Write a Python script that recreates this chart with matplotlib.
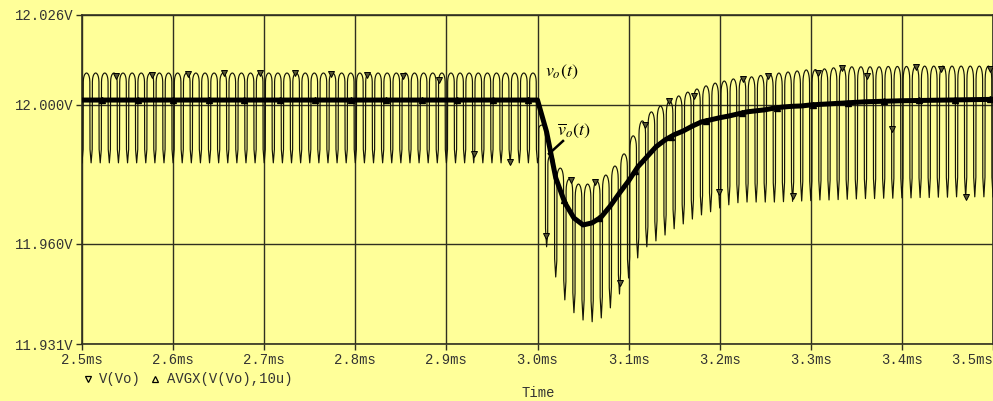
import matplotlib
matplotlib.use("Agg")
import matplotlib.pyplot as plt
from matplotlib.lines import Line2D
import numpy as np


# switching period of the converter, ms
PERIOD_MS = 0.01

# V(Vo) before the load step: one peak / trough per 10 us cycle
STEADY_CYCLES = 50
STEADY_PEAK = 12.0092
STEADY_TROUGH = 11.9833

# V(Vo) after the step at 3.0 ms, cycle by cycle
TRANSIENT_PEAKS = [
    11.9942, 11.9856, 11.9818, 11.9787, 11.9772, 11.9772, 11.9781, 11.9798, 11.9824, 11.9859,
    11.9911, 11.9954, 11.9980, 11.9997, 12.0012, 12.0026, 12.0037, 12.0046, 12.0055, 12.0063,
    12.0069, 12.0075, 12.0078, 12.0081, 12.0085, 12.0089, 12.0092, 12.0095, 12.0098, 12.0101,
    12.0102, 12.0104, 12.0107, 12.0108, 12.0110, 12.0110, 12.0110, 12.0110, 12.0111, 12.0111,
    12.0111, 12.0111, 12.0112, 12.0112, 12.0112, 12.0112, 12.0112, 12.0112, 12.0112, 12.0112,
]
TRANSIENT_TROUGHS = [
    11.9591, 11.9504, 11.9438, 11.9401, 11.9380, 11.9375, 11.9386, 11.9415, 11.9455, 11.9501,
    11.9559, 11.9591, 11.9608, 11.9625, 11.9643, 11.9657, 11.9671, 11.9683, 11.9692, 11.9703,
    11.9712, 11.9718, 11.9720, 11.9720, 11.9720, 11.9720, 11.9721, 11.9722, 11.9723, 11.9724,
    11.9726, 11.9726, 11.9727, 11.9728, 11.9729, 11.9730, 11.9730, 11.9731, 11.9731, 11.9732,
    11.9732, 11.9733, 11.9733, 11.9734, 11.9734, 11.9735, 11.9735, 11.9735, 11.9735, 11.9735,
]

# AVGX(V(Vo),10u)
AVG_TIME_MS = [
    2.50, 3.00, 3.01, 3.02, 3.03, 3.04, 3.05, 3.06, 3.07, 3.08, 3.09,
    3.10, 3.11, 3.12, 3.13, 3.14, 3.15, 3.16, 3.17, 3.18, 3.19,
    3.20, 3.21, 3.22, 3.23, 3.24, 3.25, 3.26, 3.27, 3.28, 3.29,
    3.30, 3.32, 3.34, 3.36, 3.40, 3.45, 3.50,
]
AVG_VOLTS = [
    12.0014, 12.0014, 11.9922, 11.9790, 11.9718, 11.9674, 11.9654, 11.9660, 11.9677, 11.9709, 11.9746,
    11.9781, 11.9821, 11.9850, 11.9879, 11.9899, 11.9914, 11.9925, 11.9939, 11.9951, 11.9957,
    11.9963, 11.9968, 11.9974, 11.9980, 11.9983, 11.9986, 11.9991, 11.9994, 11.9996, 11.9997,
    12.0000, 12.0003, 12.0006, 12.0009, 12.0012, 12.0014, 12.0016,
]

X_TICKS = [2.5, 2.6, 2.7, 2.8, 2.9, 3.0, 3.1, 3.2, 3.3, 3.4, 3.5]
Y_TICKS = [11.931, 11.960, 12.000, 12.026]

# shape of one ripple cycle: phase inside the period, level between trough (0) and peak (1)
KNEE_PHASE = 0.12
KNEE_LEVEL = 0.15
ARCH_PHASE = [0.14, 0.16, 0.20, 0.25, 0.30, 0.40, 0.50, 0.60, 0.70, 0.75, 0.80, 0.84, 0.86]
ARCH_LEVEL = [0.90, 0.933, 0.955, 0.972, 0.983, 0.996, 1.0, 0.996, 0.983, 0.972, 0.955, 0.933, 0.90]

BG = "#ffff99"
INK = "#303020"


def build_ripple():
    peaks = [STEADY_PEAK] * STEADY_CYCLES + TRANSIENT_PEAKS
    troughs = [STEADY_TROUGH] * (STEADY_CYCLES + 1) + TRANSIENT_TROUGHS
    t, v = [], []
    for k, hi in enumerate(peaks):
        t0 = X_TICKS[0] + k * PERIOD_MS
        lo_a, lo_b = troughs[k], troughs[k + 1]
        t.append(t0)
        v.append(lo_a)
        t.append(t0 + KNEE_PHASE * PERIOD_MS)
        v.append(lo_a + KNEE_LEVEL * (hi - lo_a))
        for p, lev in zip(ARCH_PHASE, ARCH_LEVEL):
            lo = lo_a if p < 0.5 else lo_b
            t.append(t0 + p * PERIOD_MS)
            v.append(lo + lev * (hi - lo))
        t.append(t0 + (1 - KNEE_PHASE) * PERIOD_MS)
        v.append(lo_b + KNEE_LEVEL * (hi - lo_b))
    t.append(X_TICKS[0] + len(peaks) * PERIOD_MS)
    v.append(troughs[-1])
    return np.array(t), np.array(v)


def main():
    plt.rcParams["font.family"] = ["Liberation Mono", "DejaVu Sans Mono"]
    plt.rcParams["mathtext.fontset"] = "stix"

    fig = plt.figure(figsize=(9.93, 4.01), dpi=100, facecolor=BG)
    ax = fig.add_axes([82 / 993, 1 - 344.3 / 401, 1 - 82 / 993, (344.3 - 14.7) / 401])
    ax.set_facecolor(BG)

    t, v = build_ripple()
    ax.plot(t, v, color="#141408", lw=0.85, zorder=3)

    # triangle markers that PSpice drops along the trace
    t_marks = np.concatenate([
        np.arange(2.5378, 3.0, 0.0393),
        np.arange(3.0093, 3.5, 0.0271),
    ])
    ax.plot(t_marks, np.interp(t_marks, t, v), ls="none", marker="v",
            ms=4.5, mfc="#555533", mec="black", mew=0.7, zorder=4)

    ax.plot(AVG_TIME_MS, AVG_VOLTS, color="black", lw=3.6,
            solid_joinstyle="round", solid_capstyle="butt", zorder=5)
    avg_marks = np.arange(2.522, 3.5, 0.039)
    ax.plot(avg_marks, np.interp(avg_marks, AVG_TIME_MS, AVG_VOLTS), ls="none",
            marker="^", ms=4, mfc="black", mec="black", zorder=6)

    ax.set_xlim(X_TICKS[0], X_TICKS[-1])
    ax.set_ylim(Y_TICKS[0], Y_TICKS[-1])
    ax.set_xticks(X_TICKS)
    ax.set_xticklabels([f"{x:.1f}ms" for x in X_TICKS])
    ax.get_xticklabels()[-1].set_horizontalalignment("right")
    ax.set_yticks(Y_TICKS)
    ax.set_yticklabels([f"{y:.3f}V" for y in Y_TICKS])
    ax.tick_params(direction="out", length=4.5, width=1, color=INK,
                   labelcolor="#333333", labelsize=10, pad=1.5)
    ax.grid(True, color=INK, lw=1.0)
    for side in ["left", "right", "top", "bottom"]:
        ax.spines[side].set_color(INK)
        ax.spines[side].set_linewidth(1.2)

    ax.text(3.008, 12.0095, r"$v_o(t)$", fontsize=13, va="center", ha="left", zorder=7)
    ax.text(3.0212, 11.9925, r"$\overline{v}_o(t)$", fontsize=13, va="center", ha="left", zorder=7)
    ax.plot([3.028, 3.0126], [11.9896, 11.9859], color="black", lw=1.8, zorder=7)

    # legend row and axis title, as PSpice prints them under the plot
    fig.add_artist(Line2D([88 / 993], [1 - 379 / 401], marker="v", ms=4.5, ls="none",
                          mfc="none", mec="black", mew=0.9))
    fig.text(99 / 993, 1 - 379 / 401, "V(Vo)", fontsize=10, color="#333333", va="center")
    fig.add_artist(Line2D([155 / 993], [1 - 379 / 401], marker="^", ms=4.5, ls="none",
                          mfc="none", mec="black", mew=0.9))
    fig.text(167 / 993, 1 - 379 / 401, "AVGX(V(Vo),10u)", fontsize=10, color="#333333", va="center")
    fig.text(538 / 993, 1 - 393 / 401, "Time", fontsize=10, color="#333333", va="center", ha="center")

    fig.savefig("out.png", dpi=100, facecolor=BG)
    plt.close(fig)


if __name__ == "__main__":
    main()
